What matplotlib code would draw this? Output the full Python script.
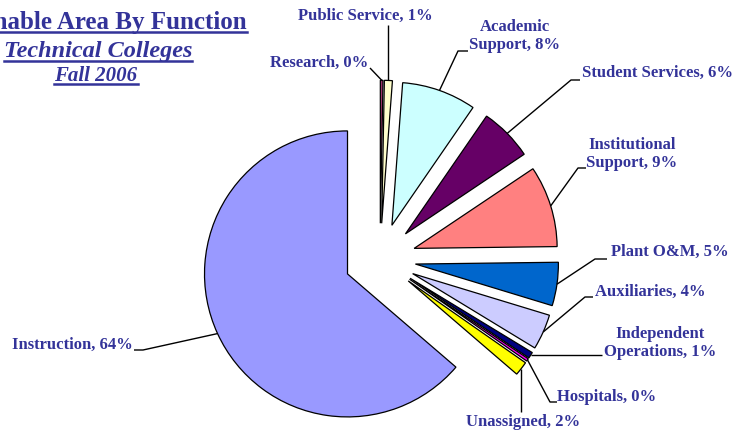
import numpy as np
import matplotlib.pyplot as plt
from matplotlib.lines import Line2D

# data (Excel series order, Instruction first)
functions = ["Instruction", "Research", "Public Service", "Academic\nSupport",
             "Student Services", "Institutional\nSupport", "Plant O&M",
             "Auxiliaries", "Independent\nOperations", "Hospitals", "Unassigned"]
shares = [63.7, 0.3, 0.9, 8.4, 6.0, 9.2, 4.9, 4.0, 0.7, 0.3, 1.6]
colors = ["#9999FF", "#993366", "#FFFFCC", "#CCFFFF", "#660066", "#FF8080",
          "#0066CC", "#CCCCFF", "#000080", "#FF00FF", "#FFFF00"]

W, H = 735, 434
txt_col = "#333399"
font = "Liberation Serif"

fig = plt.figure(figsize=(W / 100, H / 100), dpi=100)
ax = fig.add_axes([0, 0, 1, 1])

def Y(y):
    # image row -> data y
    return H - y

radius = 143
center = (380, Y(259))
expl = 0.25 * radius   # matplotlib explode is in data units
start = 90 - (100 - shares[0]) * 3.6

wedges, _ = ax.pie(shares, explode=[expl] * len(shares), colors=colors,
                   startangle=start, counterclock=False, radius=radius,
                   center=center,
                   wedgeprops=dict(edgecolor="black", linewidth=0.9))
ax.set_xlim(0, W)
ax.set_ylim(0, H)
ax.set_aspect("equal")
ax.axis("off")

# label placement: (text x, text y, ha, leader points after arc point)
# None in a leader point = keep the arc point's coordinate
layout = [
    (133, 345, "right", [(143, 350), (134, 350)]),
    (368, 63, "right", [(370, 68)]),
    (365, 16, "center", [(None, 25)]),
    (515, 36, "center", [(458, 51), (468, 51)]),
    (582, 73, "left", [(571, 80), (580, 80)]),
    (632, 154, "center", [(578, 168), (586, 168)]),
    (611, 252, "left", [(595, 259), (607, 259)]),
    (595, 292, "left", [(585, 297), (593, 297)]),
    (660, 343, "center", [(602, None)]),
    (557, 397, "left", [(550, 402), (557, 402)]),
    (466, 422, "left", [(None, 412)]),
]

for w, name, val, (tx, ty, ha, pts) in zip(wedges, functions, shares, layout):
    mid = np.deg2rad((w.theta1 + w.theta2) / 2)
    ax_, ay_ = w.center[0] + w.r * np.cos(mid), w.center[1] + w.r * np.sin(mid)
    xs, ys = [ax_], [ay_]
    for px, py in pts:
        xs.append(ax_ if px is None else px)
        ys.append(ay_ if py is None else Y(py))
    ax.plot(xs, ys, color="black", lw=1.0, solid_capstyle="butt")
    ax.text(tx, Y(ty), f"{name}, {val:.0f}%", ha=ha, va="center",
            multialignment="center", fontsize=12, fontweight="bold",
            family=font, color=txt_col, linespacing=1.1)

# title, underlined
titles = [("Assignable Area By Function", 247, 22, 18, "normal", "right"),
          ("Technical Colleges", 98, 52, 17.5, "italic", "center"),
          ("Fall 2006", 96, 76, 15, "italic", "center")]
renderer = fig.canvas.get_renderer()
for s, x, y, size, style, ha in titles:
    t = ax.text(x, Y(y), s, ha=ha, va="center", fontsize=size,
                fontweight="bold", style=style, family=font, color=txt_col)
    bb = t.get_window_extent(renderer).transformed(ax.transData.inverted())
    uy = bb.y0 + 2
    ax.add_line(Line2D([bb.x0, bb.x1], [uy, uy], color=txt_col, lw=1.8))

fig.savefig("out.png", dpi=100)
